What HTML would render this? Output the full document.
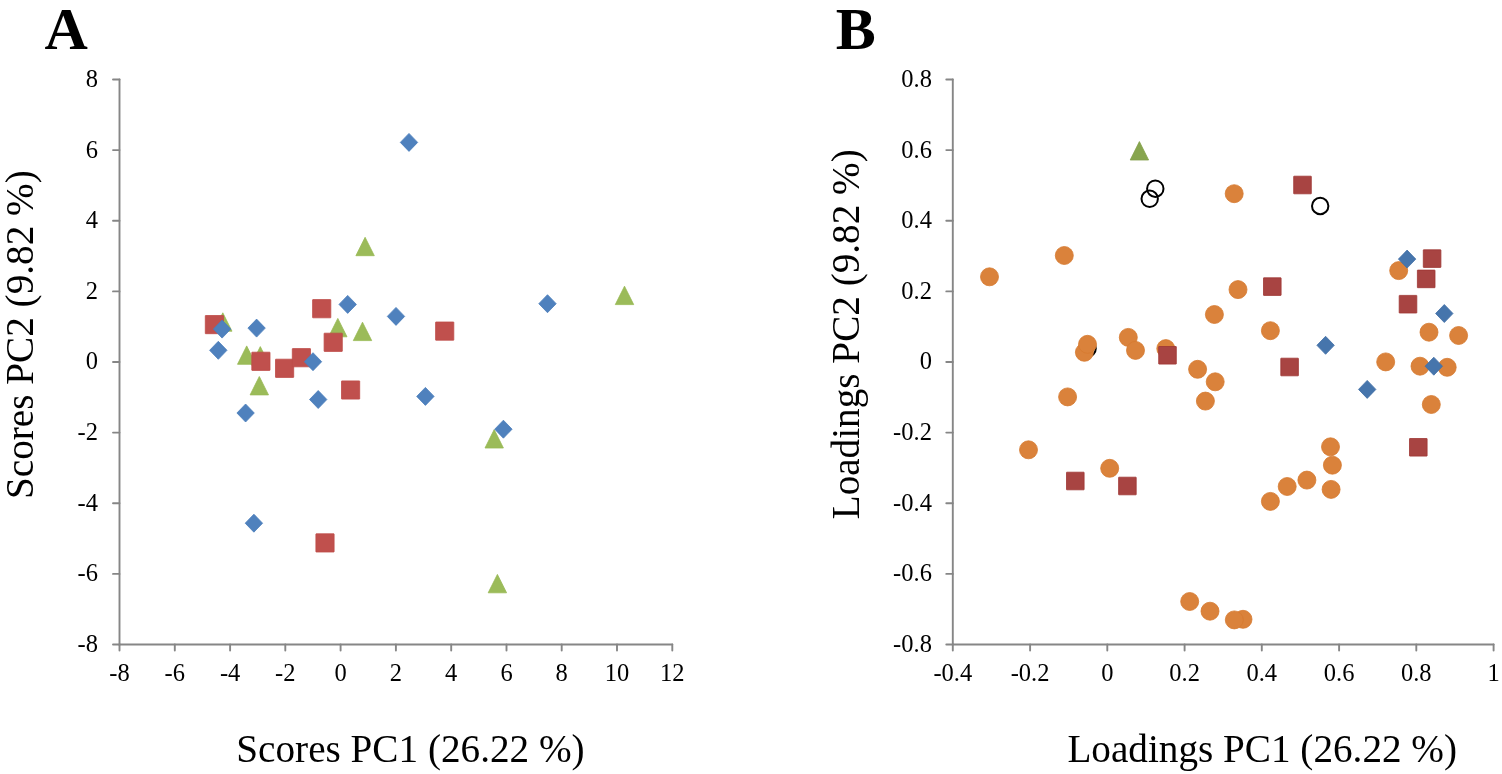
<!DOCTYPE html>
<html><head><meta charset="utf-8"><title>PCA scores and loadings</title>
<style>html,body{margin:0;padding:0;background:#fff;width:1502px;height:774px;overflow:hidden}svg{display:block}</style>
</head><body>
<svg width="1502" height="774" viewBox="0 0 1502 774">
<rect width="1502" height="774" fill="#fff"/>
<g font-family="'Liberation Serif','Times New Roman',serif" fill="#000">
<text x="44.5" y="48.5" font-size="60" font-weight="bold">A</text>
<text x="835.8" y="48.5" font-size="60" font-weight="bold">B</text>
<g font-size="24.5" text-anchor="middle"><text x="119.5" y="681">-8</text><text x="174.8" y="681">-6</text><text x="230.1" y="681">-4</text><text x="285.3" y="681">-2</text><text x="340.6" y="681">0</text><text x="395.9" y="681">2</text><text x="451.2" y="681">4</text><text x="506.5" y="681">6</text><text x="561.7" y="681">8</text><text x="617.0" y="681">10</text><text x="672.3" y="681">12</text></g><g font-size="24.5" text-anchor="end"><text x="98" y="86.9">8</text><text x="98" y="157.5">6</text><text x="98" y="228.2">4</text><text x="98" y="298.8">2</text><text x="98" y="369.4">0</text><text x="98" y="440.0">-2</text><text x="98" y="510.6">-4</text><text x="98" y="581.3">-6</text><text x="98" y="651.9">-8</text></g>
<g font-size="24.5" text-anchor="middle"><text x="952.8" y="681">-0.4</text><text x="1030.1" y="681">-0.2</text><text x="1107.3" y="681">0</text><text x="1184.6" y="681">0.2</text><text x="1261.8" y="681">0.4</text><text x="1339.1" y="681">0.6</text><text x="1416.3" y="681">0.8</text><text x="1493.6" y="681">1</text></g><g font-size="24.5" text-anchor="end"><text x="931.9" y="86.9">0.8</text><text x="931.9" y="157.5">0.6</text><text x="931.9" y="228.2">0.4</text><text x="931.9" y="298.8">0.2</text><text x="931.9" y="369.4">0</text><text x="931.9" y="440.0">-0.2</text><text x="931.9" y="510.6">-0.4</text><text x="931.9" y="581.3">-0.6</text><text x="931.9" y="651.9">-0.8</text></g>
<text x="236.3" y="762.4" font-size="39.2">Scores PC1 (26.22 %)</text>
<text x="1067.4" y="762.4" font-size="39.2">Loadings PC1 (26.22 %)</text>
<text transform="translate(32.7 499) rotate(-90)" font-size="39.2">Scores PC2 (9.82 %)</text>
<text transform="translate(859 519.3) rotate(-90)" font-size="39.2">Loadings PC2 (9.82 %)</text>
</g>
<g stroke="#868686" stroke-width="1.9" stroke-linecap="round" fill="none"><path d="M119.5 79.5V644.5H672.3"/><path d="M119.5 644.5v6"/><path d="M174.8 644.5v6"/><path d="M230.1 644.5v6"/><path d="M285.3 644.5v6"/><path d="M340.6 644.5v6"/><path d="M395.9 644.5v6"/><path d="M451.2 644.5v6"/><path d="M506.5 644.5v6"/><path d="M561.7 644.5v6"/><path d="M617.0 644.5v6"/><path d="M672.3 644.5v6"/><path d="M119.5 79.5h-6.5"/><path d="M119.5 150.1h-6.5"/><path d="M119.5 220.8h-6.5"/><path d="M119.5 291.4h-6.5"/><path d="M119.5 362.0h-6.5"/><path d="M119.5 432.6h-6.5"/><path d="M119.5 503.2h-6.5"/><path d="M119.5 573.9h-6.5"/><path d="M119.5 644.5h-6.5"/></g>
<g stroke="#868686" stroke-width="1.9" stroke-linecap="round" fill="none"><path d="M952.8 79.5V644.5H1493.6"/><path d="M952.8 644.5v6"/><path d="M1030.1 644.5v6"/><path d="M1107.3 644.5v6"/><path d="M1184.6 644.5v6"/><path d="M1261.8 644.5v6"/><path d="M1339.1 644.5v6"/><path d="M1416.3 644.5v6"/><path d="M1493.6 644.5v6"/><path d="M952.8 79.5h-6.5"/><path d="M952.8 150.1h-6.5"/><path d="M952.8 220.8h-6.5"/><path d="M952.8 291.4h-6.5"/><path d="M952.8 362.0h-6.5"/><path d="M952.8 432.6h-6.5"/><path d="M952.8 503.2h-6.5"/><path d="M952.8 573.9h-6.5"/><path d="M952.8 644.5h-6.5"/></g>
<g fill="#9BBB59" stroke="#98B954" stroke-width="0.8" stroke-linejoin="round"><path d="M365.1 237.3L374.3 255.7L355.9 255.7Z"/><path d="M624.5 286.2L633.7 304.6L615.3 304.6Z"/><path d="M337.8 318.4L347.0 336.8L328.6 336.8Z"/><path d="M362.5 322.2L371.7 340.6L353.3 340.6Z"/><path d="M222.8 312.8L232.0 331.2L213.6 331.2Z"/><path d="M246.7 345.9L255.9 364.3L237.5 364.3Z"/><path d="M260.3 346.6L269.5 365.0L251.1 365.0Z"/><path d="M259.3 376.5L268.5 394.9L250.1 394.9Z"/><path d="M494.2 429.6L503.4 448.0L485.0 448.0Z"/><path d="M497.4 574.4L506.6 592.8L488.2 592.8Z"/></g>
<g fill="#C0504D" stroke="#BE4B48" stroke-width="0.8"><rect x="205.30" y="315.50" width="18.2" height="18.2" rx="0.3"/><rect x="312.60" y="299.60" width="18.2" height="18.2" rx="0.3"/><rect x="324.10" y="333.20" width="18.2" height="18.2" rx="0.3"/><rect x="435.60" y="322.00" width="18.2" height="18.2" rx="0.3"/><rect x="251.80" y="352.20" width="18.2" height="18.2" rx="0.3"/><rect x="275.50" y="359.20" width="18.2" height="18.2" rx="0.3"/><rect x="292.30" y="348.60" width="18.2" height="18.2" rx="0.3"/><rect x="341.50" y="380.90" width="18.2" height="18.2" rx="0.3"/><rect x="315.90" y="533.80" width="18.2" height="18.2" rx="0.3"/></g>
<g fill="#4F81BD" stroke="#4A7EBB" stroke-width="0.8" stroke-linejoin="round"><path d="M409.0 133.4L417.7 142.4L409.0 151.4L400.3 142.4Z"/><path d="M547.5 294.7L556.2 303.7L547.5 312.7L538.8 303.7Z"/><path d="M347.7 295.4L356.4 304.4L347.7 313.4L339.0 304.4Z"/><path d="M396.0 307.4L404.7 316.4L396.0 325.4L387.3 316.4Z"/><path d="M222.1 320.1L230.8 329.1L222.1 338.1L213.4 329.1Z"/><path d="M256.6 319.1L265.3 328.1L256.6 337.1L247.9 328.1Z"/><path d="M218.3 341.3L227.0 350.3L218.3 359.3L209.6 350.3Z"/><path d="M313.0 352.7L321.7 361.7L313.0 370.7L304.3 361.7Z"/><path d="M318.2 390.5L326.9 399.5L318.2 408.5L309.5 399.5Z"/><path d="M425.4 387.4L434.1 396.4L425.4 405.4L416.7 396.4Z"/><path d="M245.6 404.0L254.3 413.0L245.6 422.0L236.9 413.0Z"/><path d="M503.4 420.2L512.1 429.2L503.4 438.2L494.7 429.2Z"/><path d="M253.9 514.2L262.6 523.2L253.9 532.2L245.2 523.2Z"/></g>
<g fill="none" stroke="#000" stroke-width="2"><circle cx="1087.6" cy="348.5" r="8.2"/><circle cx="1155.3" cy="188.7" r="8.2"/><circle cx="1149.7" cy="198.8" r="8.2"/><circle cx="1320.2" cy="206.0" r="8.2"/></g>
<g fill="#DA823B" stroke="#D67A30" stroke-width="0.8"><circle cx="989.5" cy="276.8" r="9.0"/><circle cx="1064.3" cy="255.5" r="9.0"/><circle cx="1234.2" cy="193.7" r="9.0"/><circle cx="1084.4" cy="352.3" r="9.0"/><circle cx="1087.5" cy="344.3" r="9.0"/><circle cx="1128.3" cy="337.4" r="9.0"/><circle cx="1135.5" cy="350.4" r="9.0"/><circle cx="1165.8" cy="348.6" r="9.0"/><circle cx="1067.6" cy="396.9" r="9.0"/><circle cx="1197.6" cy="369.3" r="9.0"/><circle cx="1215.2" cy="381.8" r="9.0"/><circle cx="1205.4" cy="401.1" r="9.0"/><circle cx="1214.4" cy="314.5" r="9.0"/><circle cx="1238.0" cy="289.6" r="9.0"/><circle cx="1270.4" cy="330.7" r="9.0"/><circle cx="1028.5" cy="449.8" r="9.0"/><circle cx="1109.7" cy="468.3" r="9.0"/><circle cx="1330.5" cy="446.8" r="9.0"/><circle cx="1332.4" cy="465.2" r="9.0"/><circle cx="1306.9" cy="480.1" r="9.0"/><circle cx="1287.2" cy="486.5" r="9.0"/><circle cx="1331.1" cy="489.4" r="9.0"/><circle cx="1270.4" cy="501.4" r="9.0"/><circle cx="1189.7" cy="601.5" r="9.0"/><circle cx="1210.0" cy="611.2" r="9.0"/><circle cx="1243.0" cy="619.3" r="9.0"/><circle cx="1234.3" cy="619.9" r="9.0"/><circle cx="1398.7" cy="270.6" r="9.0"/><circle cx="1429.0" cy="332.2" r="9.0"/><circle cx="1458.6" cy="335.5" r="9.0"/><circle cx="1385.7" cy="361.9" r="9.0"/><circle cx="1420.0" cy="366.2" r="9.0"/><circle cx="1447.2" cy="367.3" r="9.0"/><circle cx="1431.3" cy="404.5" r="9.0"/></g>
<g fill="#A84442" stroke="#9E3634" stroke-width="0.8"><rect x="1293.70" y="176.20" width="17.6" height="17.6" rx="0.3"/><rect x="1263.50" y="277.80" width="17.6" height="17.6" rx="0.3"/><rect x="1280.80" y="358.20" width="17.6" height="17.6" rx="0.3"/><rect x="1158.70" y="346.50" width="17.6" height="17.6" rx="0.3"/><rect x="1066.50" y="472.20" width="17.6" height="17.6" rx="0.3"/><rect x="1118.60" y="477.20" width="17.6" height="17.6" rx="0.3"/><rect x="1423.30" y="249.80" width="17.6" height="17.6" rx="0.3"/><rect x="1417.40" y="270.10" width="17.6" height="17.6" rx="0.3"/><rect x="1399.20" y="295.40" width="17.6" height="17.6" rx="0.3"/><rect x="1409.50" y="438.50" width="17.6" height="17.6" rx="0.3"/></g>
<g fill="#4675AC" stroke="#416FA6" stroke-width="0.8" stroke-linejoin="round"><path d="M1407.1 250.1L1415.8 259.1L1407.1 268.1L1398.4 259.1Z"/><path d="M1444.3 304.5L1453.0 313.5L1444.3 322.5L1435.6 313.5Z"/><path d="M1433.8 357.2L1442.5 366.2L1433.8 375.2L1425.1 366.2Z"/><path d="M1367.2 380.4L1375.9 389.4L1367.2 398.4L1358.5 389.4Z"/><path d="M1325.6 336.3L1334.3 345.3L1325.6 354.3L1316.9 345.3Z"/></g>
<g fill="#87A54E" stroke="#839F49" stroke-width="0.8" stroke-linejoin="round"><path d="M1139.4 141.6L1148.6 160.0L1130.2 160.0Z"/></g>
</svg>
</body></html>
